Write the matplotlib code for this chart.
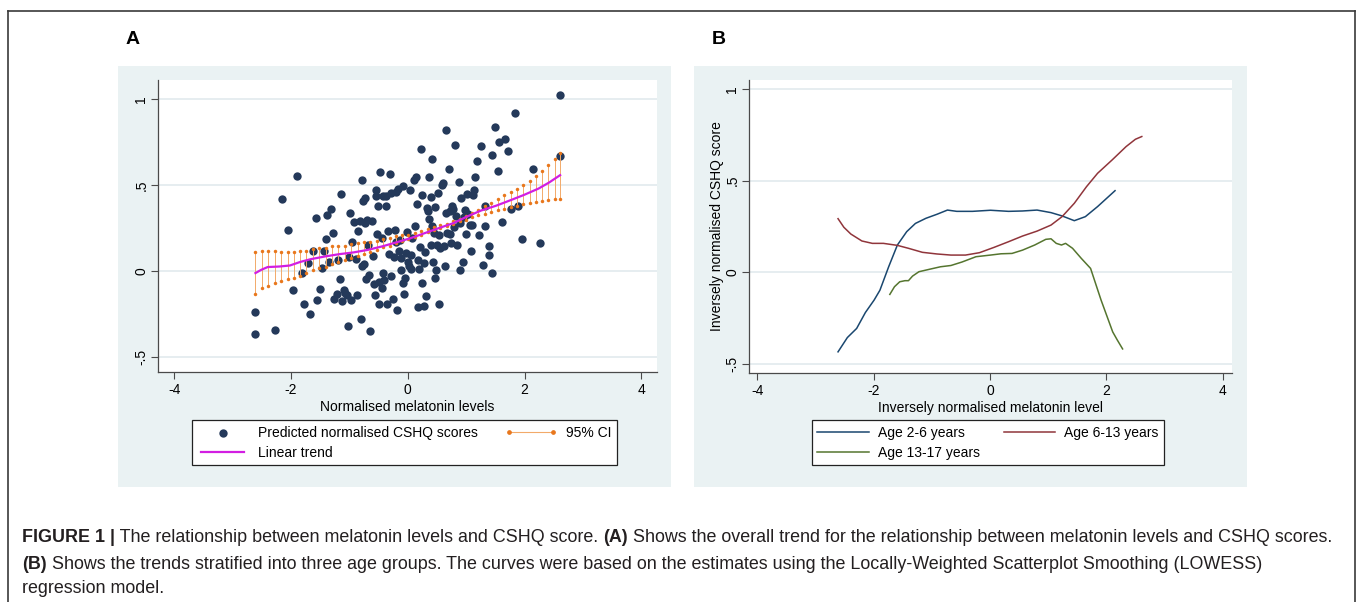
import matplotlib
matplotlib.use("Agg")
import matplotlib.pyplot as plt
from matplotlib.lines import Line2D
from matplotlib.patches import Rectangle

plt.rcParams['font.family'] = ['Liberation Sans', 'DejaVu Sans']

W, H = 1357, 602

# ---- panel A data ----
mel_x = [-2.61, -2.61, -2.28, -2.15, -2.05, -1.96, -1.89, -1.82, -1.77, -1.71, -1.67, -1.62, -1.58, -1.55,
         -1.50, -1.47, -1.43, -1.41, -1.38, -1.35, -1.32, -1.29, -1.27, -1.22, -1.20, -1.17, -1.15, -1.12,
         -1.10, -1.07, -1.05, -1.03, -1.01, -0.99, -0.97, -0.95, -0.93, -0.89, -0.87, -0.85, -0.82, -0.81,
         -0.79, -0.78, -0.76, -0.75, -0.73, -0.73, -0.71, -0.70, -0.69, -0.66, -0.64, -0.62, -0.60, -0.58,
         -0.56, -0.55, -0.54, -0.52, -0.51, -0.50, -0.49, -0.47, -0.45, -0.44, -0.43, -0.42, -0.40, -0.38,
         -0.37, -0.35, -0.34, -0.32, -0.31, -0.29, -0.28, -0.26, -0.24, -0.22, -0.21, -0.20, -0.18, -0.17,
         -0.15, -0.13, -0.12, -0.11, -0.09, -0.08, -0.06, -0.05, -0.03, -0.02, 0.00, 0.02, 0.03, 0.05,
         0.06, 0.08, 0.10, 0.12, 0.14, 0.16, 0.17, 0.18, 0.19, 0.21, 0.22, 0.24, 0.25, 0.27, 0.28, 0.30,
         0.31, 0.33, 0.34, 0.36, 0.37, 0.39, 0.40, 0.41, 0.42, 0.44, 0.45, 0.46, 0.47, 0.49, 0.50, 0.51,
         0.53, 0.54, 0.56, 0.59, 0.60, 0.62, 0.64, 0.65, 0.65, 0.67, 0.70, 0.72, 0.73, 0.74, 0.76, 0.78,
         0.79, 0.81, 0.82, 0.85, 0.87, 0.89, 0.90, 0.92, 0.94, 0.96, 0.98, 1.00, 1.02, 1.04, 1.06, 1.08,
         1.10, 1.12, 1.14, 1.16, 1.19, 1.22, 1.26, 1.29, 1.32, 1.33, 1.40, 1.40, 1.45, 1.45, 1.50, 1.54,
         1.57, 1.62, 1.66, 1.71, 1.76, 1.83, 1.88, 1.96, 2.14, 2.27, 2.61, 2.61]
cshq_y = [-0.237, -0.363, -0.34, 0.42, 0.243, -0.11, 0.553, -0.01, -0.19, 0.05, -0.25, 0.12, 0.31, -0.165,
          -0.10, 0.017, 0.12, 0.19, 0.33, 0.055, 0.365, 0.22, -0.16, -0.13, 0.067, -0.045, 0.45, -0.175,
          -0.107, -0.127, -0.14, -0.315, 0.085, 0.34, -0.165, 0.173, 0.285, 0.07, -0.14, 0.237, 0.295, -0.278,
          0.03, 0.53, 0.407, 0.045, 0.28, 0.425, -0.043, 0.3, 0.155, -0.02, -0.345, 0.29, 0.088, -0.075,
          -0.135, 0.44, 0.473, 0.215, 0.377, -0.19, -0.06, 0.576, 0.195, -0.096, -0.01, 0.44, -0.05, 0.38,
          0.435, -0.19, 0.237, 0.1, 0.567, -0.026, 0.455, -0.16, 0.086, 0.24, 0.464, 0.168, -0.227, 0.477,
          0.117, 0.183, 0.01, 0.075, -0.068, 0.497, -0.132, -0.036, 0.106, 0.226, 0.055, 0.03, 0.47, 0.096,
          0.013, 0.193, 0.53, 0.266, 0.547, 0.39, 0.067, -0.208, 0.014, 0.139, 0.713, 0.443, -0.065, -0.204, 0.05, 0.11,
          -0.142, 0.367, 0.348, 0.547, 0.303, 0.152, 0.43, 0.265, 0.651, 0.055, 0.222, -0.038, 0.373, 0.005, 0.154, 0.458,
          -0.19, 0.213, 0.135, 0.503, 0.516, 0.15, 0.03, 0.823, 0.338, 0.222, 0.592, 0.348, 0.215, 0.164, 0.377, 0.361,
          0.26, 0.736, 0.319, 0.154, 0.522, 0.28, 0.009, 0.425, 0.055, 0.315, 0.354, 0.216, 0.448, 0.334, 0.272, 0.121,
          0.268, 0.444, 0.47, 0.551, 0.644, 0.212, 0.728, 0.036, 0.38, 0.264, 0.148, 0.094, 0.678, -0.012, 0.837, 0.585,
          0.752, 0.284, 0.768, 0.701, 0.361, 0.918, 0.38, 0.189, 0.597, 0.164, 1.025, 0.673]

ci_x = [-2.61, -2.50, -2.39, -2.28, -2.17, -2.06, -1.95, -1.85, -1.74, -1.63, -1.52, -1.41, -1.30, -1.19,
        -1.08, -0.97, -0.86, -0.75, -0.64, -0.53, -0.42, -0.31, -0.20, -0.10, 0.01, 0.12, 0.23, 0.34,
        0.45, 0.56, 0.67, 0.78, 0.89, 0.99, 1.10, 1.21, 1.32, 1.43, 1.54, 1.65, 1.76, 1.87, 1.98, 2.09,
        2.19, 2.30, 2.41, 2.52, 2.61]
ci_hi = [0.114, 0.119, 0.119, 0.117, 0.114, 0.112, 0.114, 0.117, 0.121, 0.129, 0.133, 0.137, 0.145, 0.147,
         0.150, 0.156, 0.162, 0.168, 0.172, 0.179, 0.187, 0.195, 0.203, 0.211, 0.214, 0.224, 0.236, 0.245,
         0.255, 0.267, 0.278, 0.292, 0.305, 0.321, 0.338, 0.358, 0.381, 0.400, 0.419, 0.443, 0.462, 0.481,
         0.501, 0.526, 0.555, 0.582, 0.617, 0.652, 0.686]
ci_lo = [-0.132, -0.099, -0.084, -0.070, -0.059, -0.045, -0.036, -0.026, -0.010, 0.005, 0.017, 0.028, 0.040, 0.055,
         0.067, 0.079, 0.090, 0.102, 0.114, 0.125, 0.139, 0.150, 0.164, 0.174, 0.187, 0.201, 0.212, 0.226,
         0.239, 0.251, 0.264, 0.278, 0.290, 0.301, 0.313, 0.325, 0.336, 0.346, 0.356, 0.365, 0.373, 0.381,
         0.390, 0.396, 0.402, 0.408, 0.412, 0.418, 0.420]

trend_x = [-2.61, -2.51, -2.40, -2.20, -2.02, -1.84, -1.66, -1.41, -1.17, -0.93, -0.68, -0.44, -0.20,
           0.05, 0.29, 0.53, 0.78, 1.02, 1.26, 1.51, 1.75, 1.99, 2.24, 2.42, 2.61]
trend_y = [-0.010, 0.009, 0.025, 0.028, 0.034, 0.055, 0.071, 0.087, 0.100, 0.110, 0.125, 0.145, 0.168,
           0.193, 0.222, 0.251, 0.280, 0.319, 0.354, 0.381, 0.412, 0.444, 0.481, 0.516, 0.559]

# ---- panel B data (LOWESS by age group) ----
age26_x = [-2.61, -2.45, -2.29, -2.14, -1.99, -1.89, -1.74, -1.59, -1.43, -1.28, -1.10, -0.91, -0.73,
           -0.57, -0.30, 0.01, 0.32, 0.56, 0.81, 1.05, 1.24, 1.45, 1.64, 1.85, 2.15]
age26_y = [-0.436, -0.358, -0.308, -0.221, -0.153, -0.099, 0.029, 0.148, 0.221, 0.266, 0.294, 0.316, 0.339,
           0.332, 0.332, 0.338, 0.332, 0.334, 0.339, 0.325, 0.307, 0.281, 0.303, 0.358, 0.445]
age613_x = [-2.61, -2.51, -2.39, -2.20, -2.02, -1.83, -1.59, -1.40, -1.16, -0.91, -0.67, -0.42, -0.18,
            0.07, 0.32, 0.56, 0.81, 1.05, 1.24, 1.45, 1.66, 1.85, 2.10, 2.34, 2.50, 2.61]
age613_y = [0.292, 0.245, 0.208, 0.170, 0.157, 0.157, 0.146, 0.130, 0.108, 0.099, 0.093, 0.093, 0.106,
            0.135, 0.166, 0.197, 0.224, 0.257, 0.303, 0.376, 0.467, 0.540, 0.613, 0.686, 0.726, 0.741]
age1317_x = [-1.72, -1.64, -1.55, -1.46, -1.40, -1.33, -1.22, -1.03, -0.85, -0.67, -0.48, -0.24, 0.01,
             0.19, 0.38, 0.56, 0.77, 0.96, 1.05, 1.14, 1.23, 1.30, 1.42, 1.57, 1.73, 1.91, 2.11, 2.19, 2.28]
age1317_y = [-0.122, -0.080, -0.053, -0.047, -0.047, -0.022, 0.002, 0.016, 0.029, 0.036, 0.055, 0.084, 0.093,
             0.100, 0.102, 0.120, 0.148, 0.179, 0.182, 0.157, 0.148, 0.157, 0.130, 0.075, 0.020, -0.153,
             -0.327, -0.372, -0.420]

xticks = [-4, -2, 0, 2, 4]
xtick_labels = ['-4', '-2', '0', '2', '4']
yticks = [-0.5, 0, 0.5, 1]
ytick_labels = ['-.5', '0', '.5', '1']

BG = '#eaf2f3'
GRID = '#e1eaee'
NAVY = '#1a476f'
MAROON = '#90353b'
FOREST = '#55752f'
DOT = '#24395a'
ORANGE = '#e8771c'
MAGENTA = '#d21ee2'

fig = plt.figure(figsize=(W / 100, H / 100), dpi=100)


def px_axes(x0, y0, x1, y1):
    return fig.add_axes([x0 / W, 1 - y1 / H, (x1 - x0) / W, (y1 - y0) / H])


# outer frame
for xs, ys in [((8, 8), (11, H)), ((8, 1355), (11, 11)), ((1355, 1355), (11, H))]:
    fig.add_artist(Line2D([x / W for x in xs], [1 - y / H for y in ys], color='#3a3a3a', lw=1.2))

# grey graph regions
for x0, x1 in [(118, 671), (694, 1247)]:
    fig.add_artist(Rectangle((x0 / W, 1 - 487 / H), (x1 - x0) / W, (487 - 66) / H,
                             facecolor=BG, edgecolor='none', transform=fig.transFigure, zorder=0))


def style(ax):
    ax.set_facecolor('white')
    for s in ['top', 'right']:
        ax.spines[s].set_visible(False)
    for s in ['left', 'bottom']:
        ax.spines[s].set_color('#4a4a4a')
        ax.spines[s].set_linewidth(0.9)
    ax.set_xticks(xticks)
    ax.set_xticklabels(xtick_labels)
    ax.set_yticks(yticks)
    ax.set_yticklabels(ytick_labels, rotation=90, va='center')
    ax.tick_params(length=5, width=0.8, color='#4a4a4a', labelsize=10, pad=3)
    ax.tick_params(axis='y', pad=2)
    ax.grid(axis='y', color=GRID, lw=1.2)
    ax.set_axisbelow(True)


# ---- A ----
axA = px_axes(158, 80, 657, 372)
style(axA)
axA.set_xlim(-4.28, 4.27)
axA.set_ylim(-0.585, 1.112)
sc = axA.scatter(mel_x, cshq_y, s=36, color=DOT, linewidths=0, zorder=3)
axA.vlines(ci_x, ci_lo, ci_hi, color='#f2aa6a', lw=0.7, zorder=4)
axA.plot(ci_x, ci_hi, ls='none', marker='o', ms=2.5, color=ORANGE, mew=0, zorder=5)
axA.plot(ci_x, ci_lo, ls='none', marker='o', ms=2.5, color=ORANGE, mew=0, zorder=5)
tr, = axA.plot(trend_x, trend_y, color=MAGENTA, lw=1.6, zorder=6)
axA.set_xlabel('Normalised melatonin levels', fontsize=10, labelpad=2)

ci_handle = Line2D([], [], color='#f2aa6a', lw=0.8, marker='o', ms=2.4, mfc=ORANGE, mec=ORANGE)
legA = axA.legend([sc, tr, ci_handle],
                  ['Predicted normalised CSHQ scores', 'Linear trend', '95% CI'],
                  ncol=2, loc='upper left', bbox_to_anchor=(191.7 / W, 1 - 420 / H),
                  bbox_transform=fig.transFigure, fontsize=10, frameon=True, fancybox=False,
                  edgecolor='#222222', framealpha=1, numpoints=2, scatterpoints=1,
                  handlelength=3.7, handletextpad=0.65, columnspacing=2.0, labelspacing=0.45,
                  borderpad=0.4, borderaxespad=0)
legA.get_frame().set_linewidth(0.9)

fig.text(133 / W, 1 - 40 / H, 'A', fontsize=14, fontweight='bold', ha='center', va='center')

# ---- B ----
axB = px_axes(749, 80, 1232, 372.7)
style(axB)
axB.set_xlim(-4.14, 4.16)
axB.set_ylim(-0.55, 1.05)
l1, = axB.plot(age26_x, age26_y, color=NAVY, lw=1.1)
l2, = axB.plot(age613_x, age613_y, color=MAROON, lw=1.1)
l3, = axB.plot(age1317_x, age1317_y, color=FOREST, lw=1.1)
axB.set_xlabel('Inversely normalised melatonin level', fontsize=10, labelpad=2)
axB.set_ylabel('Inversely normalised CSHQ score', fontsize=10, labelpad=1)

legB = axB.legend([l1, l3, l2], ['Age 2-6 years', 'Age 13-17 years', 'Age 6-13 years'],
                  ncol=2, loc='upper left', bbox_to_anchor=(811.7 / W, 1 - 420 / H),
                  bbox_transform=fig.transFigure, fontsize=10, frameon=True, fancybox=False,
                  edgecolor='#222222', framealpha=1,
                  handlelength=3.7, handletextpad=0.65, columnspacing=1.75, labelspacing=0.45,
                  borderpad=0.4, borderaxespad=0)
legB.get_frame().set_linewidth(0.9)

fig.text(719 / W, 1 - 40 / H, 'B', fontsize=14, fontweight='bold', ha='center', va='center')

# ---- caption ----
renderer = fig.canvas.get_renderer()


def rich_line(x, y, parts, size=12.9):
    x = x / W
    for text, weight in parts:
        t = fig.text(x, 1 - y / H, text, fontsize=size, fontweight=weight, va='baseline',
                     color='#231f20')
        x += t.get_window_extent(renderer).width / W


rich_line(22, 542, [('FIGURE 1 |', 'bold'),
                    (' The relationship between melatonin levels and CSHQ score. ', 'normal'),
                    ('(A)', 'bold'),
                    (' Shows the overall trend for the relationship between melatonin levels and CSHQ scores.', 'normal')])
rich_line(22, 569, [('(B)', 'bold'),
                    (' Shows the trends stratified into three age groups. The curves were based on the estimates '
                     'using the Locally-Weighted Scatterplot Smoothing (LOWESS)', 'normal')])
rich_line(22, 593, [('regression model.', 'normal')])

fig.savefig('out.png', dpi=100)
